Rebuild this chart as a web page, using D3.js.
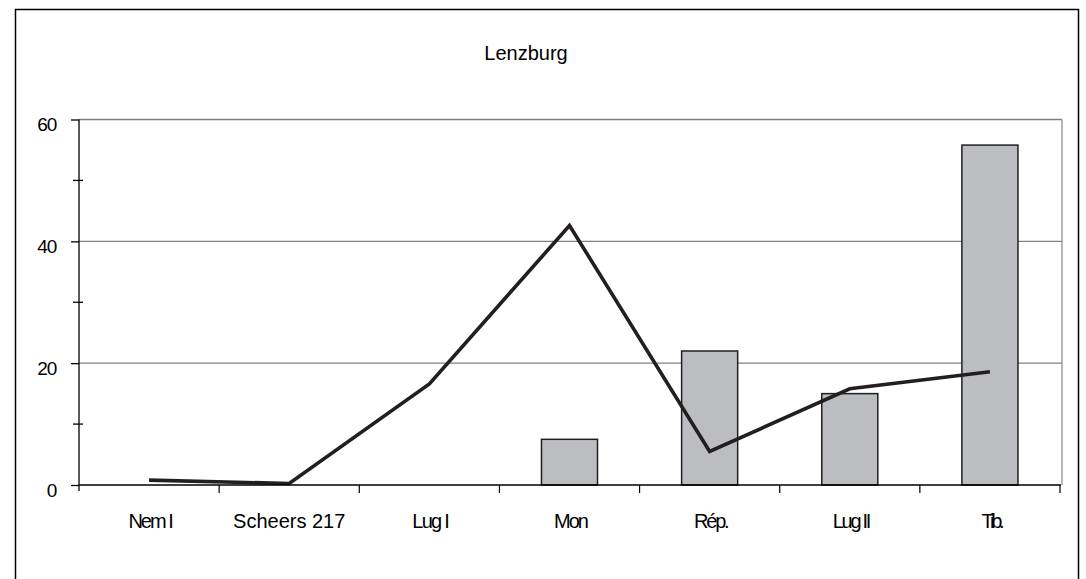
<!DOCTYPE html>
<html>
<head>
<meta charset="utf-8">
<script src="https://cdn.jsdelivr.net/npm/d3@7/dist/d3.min.js"></script>
<style>
  body { margin: 0; background: #fff; }
  svg text { font-family: "Liberation Sans", Arial, sans-serif; fill: #000; }
</style>
</head>
<body>
<svg id="chart" width="1086" height="579"></svg>
<script>
// data
const categories = ["Nem I", "Scheers 217", "Lug I", "Mon", "Rép.", "Lug II", "Tib."];
const barValues = [0, 0, 0, 7.5, 22, 15, 55.8];
const lineValues = [0.8, 0.25, 16.6, 42.6, 5.5, 15.8, 18.6];
const majorTicks = [0, 20, 40, 60];
const minorTicks = [10, 30, 50];

const svg = d3.select("#chart");
const m = { left: 79, right: 1060, top: 119.5, bottom: 485 };

// frame round the whole chart (open at the bottom)
svg.append("path")
  .attr("d", "M15.5,579 V9.5 H1078.5 V579")
  .attr("fill", "none").attr("stroke", "#000").attr("stroke-width", 1.5);

svg.append("text")
  .attr("x", 526).attr("y", 60)
  .attr("text-anchor", "middle")
  .attr("font-size", 20)
  .text("Lenzburg");

const x = d3.scaleBand().domain(categories).range([m.left, m.right]);
const y = d3.scaleLinear().domain([0, 60]).range([m.bottom, m.top]);

// grid lines
svg.append("g").selectAll("line").data(majorTicks.filter(d => d > 0)).join("line")
  .attr("x1", m.left).attr("x2", m.right + 2)
  .attr("y1", d => y(d)).attr("y2", d => y(d))
  .attr("stroke", "#808080").attr("stroke-width", 1.3);

// plot area right edge
svg.append("line")
  .attr("x1", m.right + 2).attr("x2", m.right + 2)
  .attr("y1", y(60)).attr("y2", m.bottom)
  .attr("stroke", "#909090").attr("stroke-width", 1.3);

// bars
const bw = x.bandwidth() * 0.4;
svg.append("g").selectAll("rect").data(categories.map((c, i) => ({ c, v: barValues[i] })).filter(d => d.v > 0))
  .join("rect")
  .attr("x", d => x(d.c) + (x.bandwidth() - bw) / 2)
  .attr("width", bw)
  .attr("y", d => y(d.v))
  .attr("height", d => m.bottom - y(d.v))
  .attr("fill", "#bcbdc1")
  .attr("stroke", "#231f20").attr("stroke-width", 1.5);

// line series
const line = d3.line()
  .x((d, i) => x(categories[i]) + x.bandwidth() / 2)
  .y(d => y(d));
svg.append("path")
  .datum(lineValues)
  .attr("d", line)
  .attr("fill", "none")
  .attr("stroke", "#231f20").attr("stroke-width", 3.6)
  .attr("stroke-linejoin", "miter");

// y axis
const yAxis = d3.axisLeft(y).tickValues(majorTicks).tickSize(8).tickPadding(15);
const gy = svg.append("g").attr("transform", `translate(${m.left},0)`).call(yAxis);
gy.select(".domain").attr("stroke", "#000").attr("stroke-width", 1.3)
  .attr("d", `M0,${y(60)}V${m.bottom + 6}`);
gy.selectAll(".tick line").attr("stroke", "#000").attr("stroke-width", 1.3);
gy.selectAll(".tick text").attr("font-size", 19).attr("letter-spacing", -1.2)
  .attr("dy", "0.6em")
  .attr("font-family", "Liberation Sans, Arial, sans-serif").attr("fill", "#000");
gy.append("g").selectAll("line").data(minorTicks).join("line")
  .attr("x1", -6).attr("x2", 4)
  .attr("y1", d => y(d)).attr("y2", d => y(d))
  .attr("stroke", "#000").attr("stroke-width", 1.3);

// x axis
const gx = svg.append("g").attr("transform", `translate(0,${m.bottom})`);
gx.append("line").attr("x1", m.left).attr("x2", m.right + 1)
  .attr("stroke", "#000").attr("stroke-width", 1.5);
gx.selectAll("line.tk").data(categories.slice(1).concat(["end"])).join("line")
  .attr("class", "tk")
  .attr("x1", d => d === "end" ? m.right : x(d)).attr("x2", d => d === "end" ? m.right : x(d))
  .attr("y1", 0).attr("y2", 8)
  .attr("stroke", "#000").attr("stroke-width", 1.2);
const tight = { "Nem I": -2, "Scheers 217": 0, "Lug I": -1.7, "Mon": -2, "Rép.": -2.2, "Lug II": -2.3, "Tib.": -3.2 };
gx.selectAll("text").data(categories).join("text")
  .attr("x", d => x(d) + x.bandwidth() / 2 - tight[d] / 2)
  .attr("y", 43)
  .attr("text-anchor", "middle")
  .attr("font-size", 20)
  .attr("letter-spacing", d => tight[d])
  .text(d => d);
</script>
</body>
</html>
